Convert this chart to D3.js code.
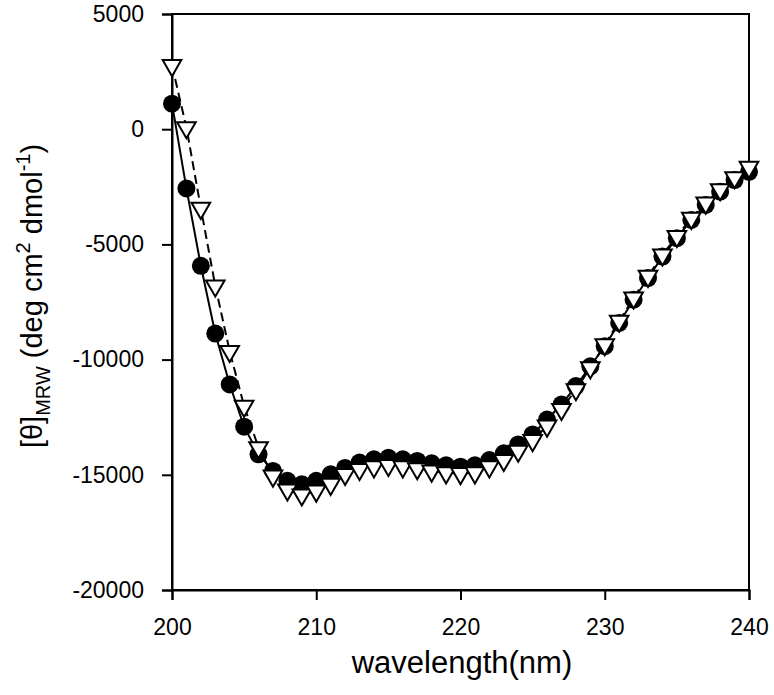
<!DOCTYPE html>
<html>
<head>
<meta charset="utf-8">
<script src="https://cdn.jsdelivr.net/npm/d3@7"></script>
<style>
  html, body { margin: 0; padding: 0; background: #fff; }
  svg text { font-family: "Liberation Sans", Arial, sans-serif; fill: #000; }
</style>
</head>
<body>
<svg id="chart" width="774" height="695"></svg>
<script>
const wavelengths = [200,201,202,203,204,205,206,207,208,209,210,211,212,213,214,215,216,217,218,219,220,
  221,222,223,224,225,226,227,228,229,230,231,232,233,234,235,236,237,238,239,240];
const seriesCircles = [1110,-2570,-5930,-8870,-11080,-12910,-14110,-14830,-15260,-15410,-15260,-14980,-14700,
  -14470,-14330,-14260,-14330,-14400,-14500,-14590,-14650,-14590,-14360,-14070,-13680,-13250,-12600,-11950,
  -11150,-10290,-9420,-8410,-7400,-6460,-5530,-4730,-3940,-3290,-2710,-2210,-1850];
const seriesTriangles = [2770,70,-3430,-6800,-9640,-12020,-13820,-15050,-15650,-15870,-15700,-15410,-14980,
  -14760,-14650,-14590,-14650,-14730,-14830,-14910,-14940,-14910,-14650,-14370,-13970,-13510,-12880,-12160,
  -11300,-10350,-9350,-8330,-7320,-6380,-5450,-4650,-3860,-3200,-2620,-2100,-1650];
const xTicks = [200,210,220,230,240];
const yTicks = [5000,0,-5000,-10000,-15000,-20000];
const xLabel = "wavelength(nm)";

const svg = d3.select("#chart");
const L = 172, R = 749, T = 14, B = 590;
const x = d3.scaleLinear().domain([200,240]).range([L,R]);
const y = d3.scaleLinear().domain([-20000,5000]).range([B,T]);

const circData = wavelengths.map((w,i)=>({x:w,y:seriesCircles[i]}));
const triData = wavelengths.map((w,i)=>({x:w,y:seriesTriangles[i]}));
const line = d3.line().x(d=>x(d.x)).y(d=>y(d.y));

// frame
svg.append("rect").attr("x",L).attr("y",T).attr("width",R-L).attr("height",B-T)
  .attr("fill","none").attr("stroke","#000").attr("stroke-width",2);

// axes
const fmt = d => String(d);
const xAxis = svg.append("g").attr("transform",`translate(0,${B})`)
  .call(d3.axisBottom(x).tickValues(xTicks).tickSize(10).tickPadding(19).tickFormat(fmt));
const yAxis = svg.append("g").attr("transform",`translate(${L},0)`)
  .call(d3.axisLeft(y).tickValues(yTicks).tickSize(10).tickPadding(18).tickFormat(fmt));
[xAxis,yAxis].forEach(g=>{
  g.select(".domain").attr("stroke","#000").attr("stroke-width",2);
  g.selectAll(".tick line").attr("stroke","#000").attr("stroke-width",2);
  g.selectAll(".tick text").attr("font-size",23).attr("font-family","Liberation Sans, Arial, sans-serif").attr("fill","#000");
});

// series 1: filled circles, solid line
svg.append("path").datum(circData).attr("d",line)
  .attr("fill","none").attr("stroke","#000").attr("stroke-width",2);
svg.append("g").selectAll("circle").data(circData).join("circle")
  .attr("cx",d=>x(d.x)).attr("cy",d=>y(d.y)).attr("r",9).attr("fill","#000");

// series 2: open down triangles, dashed line
svg.append("path").datum(triData).attr("d",line)
  .attr("fill","none").attr("stroke","#000").attr("stroke-width",2).attr("stroke-dasharray","9,5");
const tri = d3.symbol().type(d3.symbolTriangle).size(150);
svg.append("g").selectAll("path").data(triData).join("path")
  .attr("d",tri)
  .attr("transform",d=>`translate(${x(d.x)},${y(d.y)}) rotate(180)`)
  .attr("fill","#fff").attr("stroke","#000").attr("stroke-width",2);

// x label
svg.append("text").attr("x",462).attr("y",673).attr("text-anchor","middle")
  .attr("font-size",31).text(xLabel);

// y label
const yl = svg.append("text").attr("transform",`translate(42,296) rotate(-90)`)
  .attr("text-anchor","middle").attr("font-size",29);
yl.append("tspan").text("[θ]");
yl.append("tspan").attr("font-size",20).attr("dy",8).text("MRW");
yl.append("tspan").attr("dy",-8).text(" (deg cm");
yl.append("tspan").attr("font-size",20).attr("dy",-12).text("2");
yl.append("tspan").attr("dy",12).text(" dmol");
yl.append("tspan").attr("font-size",20).attr("dy",-12).text("-1");
yl.append("tspan").attr("dy",12).text(")");
</script>
</body>
</html>
